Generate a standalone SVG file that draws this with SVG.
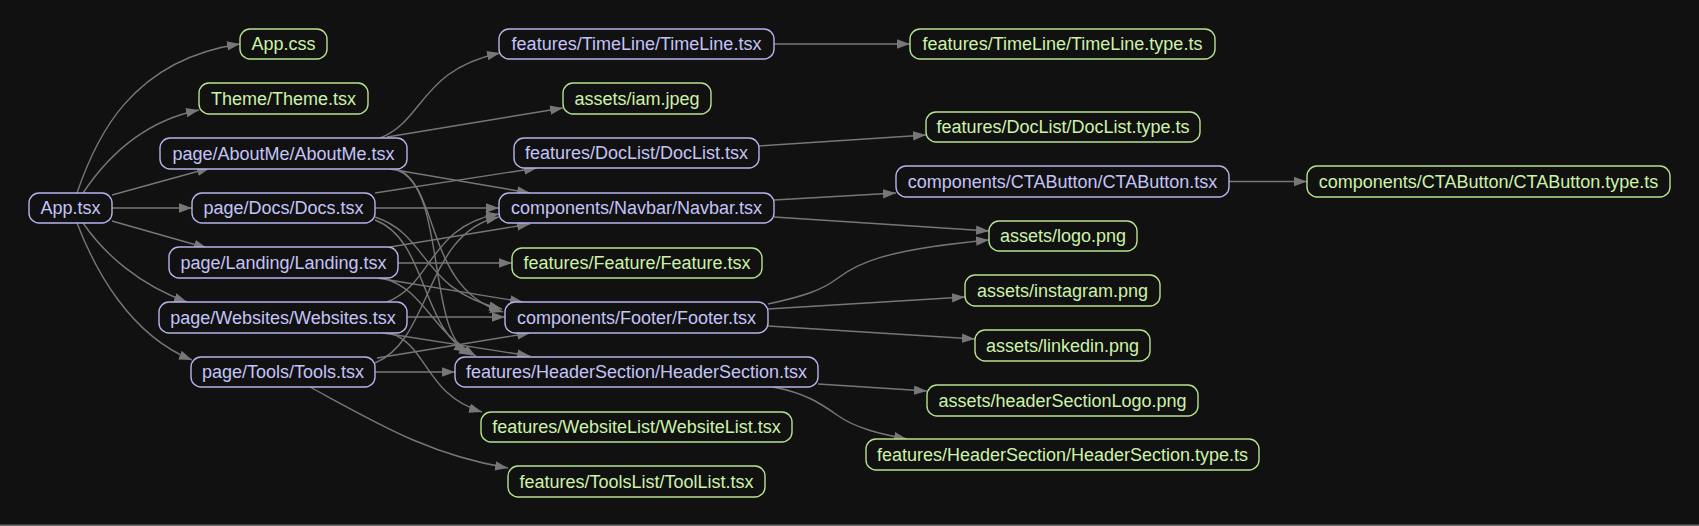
<svg xmlns="http://www.w3.org/2000/svg" width="1699" height="526" viewBox="0 0 1699 526">
<style>
.bg{fill:#111111}
.n rect{fill:#111111;stroke-width:1.4}
.n text{font-family:"Liberation Sans",Arial,sans-serif;font-size:18px;text-anchor:middle}
.b rect{stroke:#b4b4ec}
.b text{fill:#c4c4f8}
.g rect{stroke:#b6e290}
.g text{fill:#cdf3a8}
#edges path{fill:none;stroke:#777777;stroke-width:1.4;marker-end:url(#arr)}
</style>
<defs>
<marker id="arr" markerUnits="userSpaceOnUse" markerWidth="14" markerHeight="10" refX="13" refY="4.7" orient="auto">
<path d="M0,0 L13,4.7 L0,9.4 Z" fill="#777777"/>
</marker>
</defs>
<rect class="bg" x="0" y="0" width="1699" height="526"/>
<rect x="0" y="524.5" width="1699" height="1.5" fill="#6a6a6a"/>
<g id="edges">
<path d="M77,193 C95,140 130,60 240,44"/>
<path d="M83,193 C105,160 140,122 199,110"/>
<path d="M112,195 L210,168"/>
<path d="M112,208 L192,208"/>
<path d="M112,221 L207,248"/>
<path d="M83,223 C105,255 140,285 187,302"/>
<path d="M77,223 C95,270 130,335 192,360"/>
<path d="M380,138 C425,120 420,70 500,53"/>
<path d="M387,137 L563,108"/>
<path d="M390,169 L530,193"/>
<path d="M397,170 C440,185 425,290 503,312"/>
<path d="M399,170 C445,190 428,330 467,352"/>
<path d="M375,193 L537,168"/>
<path d="M375,208 L499,208"/>
<path d="M375,217 C430,235 420,290 502,309"/>
<path d="M375,220 C428,240 420,330 472,355"/>
<path d="M390,247 L530,224"/>
<path d="M398,263 L512,263"/>
<path d="M377,278 L523,302"/>
<path d="M383,278 C425,290 430,330 476,356"/>
<path d="M387,302 C432,285 430,225 499,214"/>
<path d="M407,317 L505,317"/>
<path d="M383,333 L530,356"/>
<path d="M390,333 C428,345 425,395 482,412"/>
<path d="M375,363 C432,340 425,232 499,217"/>
<path d="M377,358 L530,333"/>
<path d="M375,372 L455,372"/>
<path d="M310,387 C380,425 430,455 508,468"/>
<path d="M774,44 L910,44"/>
<path d="M759,146 L926,135"/>
<path d="M774,200 L896,193"/>
<path d="M774,217 L989,231"/>
<path d="M768,304 C805,296 822,290 838,278 C855,265 880,250 989,240"/>
<path d="M768,309 L965,297"/>
<path d="M768,326 L975,339"/>
<path d="M818,384 L927,391"/>
<path d="M773,387 C805,393 820,403 837,415 C855,428 880,434 907,439"/>
<path d="M1229,181.5 L1307,181.5"/>
</g>
<g id="n-app-tsx" class="n b"><rect x="29" y="193" width="83" height="30" rx="10"/><text x="70.5" y="214.4">App.tsx</text></g>
<g id="n-app-css" class="n g"><rect x="240" y="29" width="87" height="30" rx="10"/><text x="283.5" y="50.4">App.css</text></g>
<g id="n-theme" class="n g"><rect x="199" y="83" width="169" height="31" rx="10"/><text x="283.5" y="104.9">Theme/Theme.tsx</text></g>
<g id="n-aboutme" class="n b"><rect x="160" y="138" width="247" height="31" rx="10"/><text x="283.5" y="159.9">page/AboutMe/AboutMe.tsx</text></g>
<g id="n-docs" class="n b"><rect x="192" y="193" width="183" height="30" rx="10"/><text x="283.5" y="214.4">page/Docs/Docs.tsx</text></g>
<g id="n-landing" class="n b"><rect x="169" y="247" width="229" height="31" rx="10"/><text x="283.5" y="268.9">page/Landing/Landing.tsx</text></g>
<g id="n-websites" class="n b"><rect x="159" y="302" width="248" height="31" rx="10"/><text x="283" y="323.9">page/Websites/Websites.tsx</text></g>
<g id="n-tools" class="n b"><rect x="191" y="357" width="184" height="30" rx="10"/><text x="283" y="378.4">page/Tools/Tools.tsx</text></g>
<g id="n-timeline" class="n b"><rect x="499" y="29" width="275" height="30" rx="10"/><text x="636.5" y="50.4">features/TimeLine/TimeLine.tsx</text></g>
<g id="n-iam" class="n g"><rect x="563" y="83" width="148" height="31" rx="10"/><text x="637" y="104.9">assets/iam.jpeg</text></g>
<g id="n-doclist" class="n b"><rect x="514" y="138" width="245" height="30" rx="10"/><text x="636.5" y="159.4">features/DocList/DocList.tsx</text></g>
<g id="n-navbar" class="n b"><rect x="499" y="193" width="275" height="30" rx="10"/><text x="636.5" y="214.4">components/Navbar/Navbar.tsx</text></g>
<g id="n-feature" class="n g"><rect x="512" y="248" width="250" height="30" rx="10"/><text x="637" y="269.4">features/Feature/Feature.tsx</text></g>
<g id="n-footer" class="n b"><rect x="505" y="302" width="263" height="31" rx="10"/><text x="636.5" y="323.9">components/Footer/Footer.tsx</text></g>
<g id="n-headersection" class="n b"><rect x="455" y="357" width="363" height="30" rx="10"/><text x="636.5" y="378.4">features/HeaderSection/HeaderSection.tsx</text></g>
<g id="n-websitelist" class="n g"><rect x="481" y="412" width="311" height="30" rx="10"/><text x="636.5" y="433.4">features/WebsiteList/WebsiteList.tsx</text></g>
<g id="n-toollist" class="n g"><rect x="508" y="466" width="257" height="31" rx="10"/><text x="636.5" y="487.9">features/ToolsList/ToolList.tsx</text></g>
<g id="n-timeline-type" class="n g"><rect x="910" y="29" width="305" height="30" rx="10"/><text x="1062.5" y="50.4">features/TimeLine/TimeLine.type.ts</text></g>
<g id="n-doclist-type" class="n g"><rect x="926" y="112" width="274" height="30" rx="10"/><text x="1063" y="133.4">features/DocList/DocList.type.ts</text></g>
<g id="n-ctabutton" class="n b"><rect x="896" y="166" width="333" height="31" rx="10"/><text x="1062.5" y="187.9">components/CTAButton/CTAButton.tsx</text></g>
<g id="n-logo" class="n g"><rect x="989" y="221" width="148" height="30" rx="10"/><text x="1063" y="242.4">assets/logo.png</text></g>
<g id="n-instagram" class="n g"><rect x="965" y="275" width="195" height="31" rx="10"/><text x="1062.5" y="296.9">assets/instagram.png</text></g>
<g id="n-linkedin" class="n g"><rect x="975" y="330" width="175" height="31" rx="10"/><text x="1062.5" y="351.9">assets/linkedin.png</text></g>
<g id="n-headerlogo" class="n g"><rect x="927" y="385" width="271" height="31" rx="10"/><text x="1062.5" y="406.9">assets/headerSectionLogo.png</text></g>
<g id="n-headersection-type" class="n g"><rect x="866" y="439" width="393" height="31" rx="10"/><text x="1062.5" y="460.9">features/HeaderSection/HeaderSection.type.ts</text></g>
<g id="n-ctabutton-type" class="n g"><rect x="1307" y="166" width="363" height="31" rx="10"/><text x="1488.5" y="187.9">components/CTAButton/CTAButton.type.ts</text></g>
</svg>
